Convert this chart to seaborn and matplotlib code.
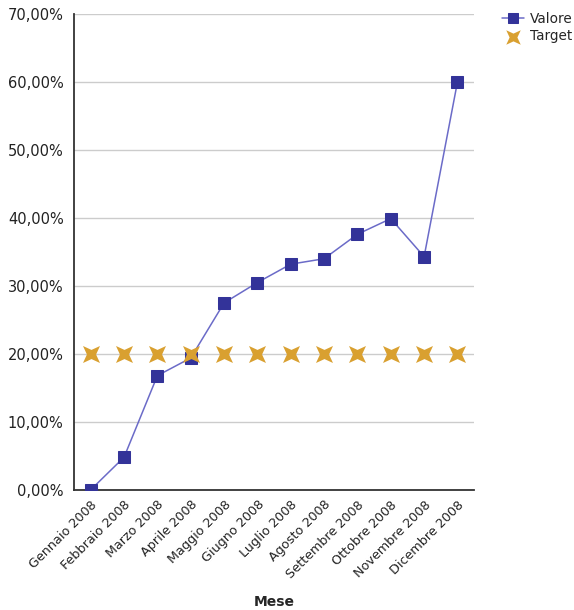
import numpy as np
import pandas as pd
import seaborn as sns
import matplotlib.pyplot as plt
from matplotlib.ticker import FuncFormatter

# data
mesi = ["Gennaio 2008", "Febbraio 2008", "Marzo 2008", "Aprile 2008",
        "Maggio 2008", "Giugno 2008", "Luglio 2008", "Agosto 2008",
        "Settembre 2008", "Ottobre 2008", "Novembre 2008", "Dicembre 2008"]
valore = [0.0, 4.8, 16.8, 19.4, 27.5, 30.5, 33.2, 34.0, 37.6, 39.9, 34.3, 60.0]
target = [20.0] * 12

df = pd.DataFrame({"Mese": mesi, "Valore": valore, "Target": target})

# thin 4-point "x" star used for the target marker
ang = np.deg2rad(np.arange(45, 405, 45))
rad = np.where(np.arange(8) % 2 == 0, 1.0, 0.38)
xstar = np.column_stack([rad * np.cos(ang), rad * np.sin(ang)])

sns.set_style("white")
plt.rcParams["font.family"] = ["DejaVu Sans"]

fig = plt.figure(figsize=(5.74, 6.10), dpi=100)
ax = fig.add_axes([0.129, 0.197, 0.697, 0.78])

blue = "#333399"
gold = "#D9A030"

sns.lineplot(data=df, x="Mese", y="Valore", ax=ax, color="#6b6bc8", lw=1.1,
             marker="s", markersize=8.5, markerfacecolor=blue,
             markeredgecolor=blue, label="Valore", zorder=3, sort=False)
sns.scatterplot(data=df, x="Mese", y="Target", ax=ax, color=gold,
                marker=xstar, s=150, linewidth=0, label="Target", zorder=4)

ax.set_xlim(-0.5, 11.5)
ax.set_ylim(0, 70)
ax.set_yticks(range(0, 71, 10))
ax.yaxis.set_major_formatter(FuncFormatter(lambda v, p: f"{v:.2f}%".replace(".", ",")))
ax.yaxis.grid(True, color="#cccccc", lw=1)
ax.set_axisbelow(True)

for s in ["top", "right"]:
    ax.spines[s].set_visible(False)
for s in ["left", "bottom"]:
    ax.spines[s].set_color("#333333")
    ax.spines[s].set_linewidth(1.3)

ax.tick_params(axis="y", length=4, labelsize=10.5, color="#333333", labelcolor="#222222")
ax.tick_params(axis="x", length=0, labelsize=9.2, labelcolor="#222222", pad=6)
plt.setp(ax.get_xticklabels(), rotation=45, ha="right", rotation_mode="anchor")

ax.set_ylabel("")
ax.set_xlabel("Mese", fontsize=10, fontweight="bold", labelpad=10)

ax.legend(loc="upper left", bbox_to_anchor=(1.04, 1.03), frameon=False,
          fontsize=9.8, handlelength=1.6, handletextpad=0.4, labelspacing=0.25,
          markerscale=0.85)

fig.savefig("out.png", dpi=100)
